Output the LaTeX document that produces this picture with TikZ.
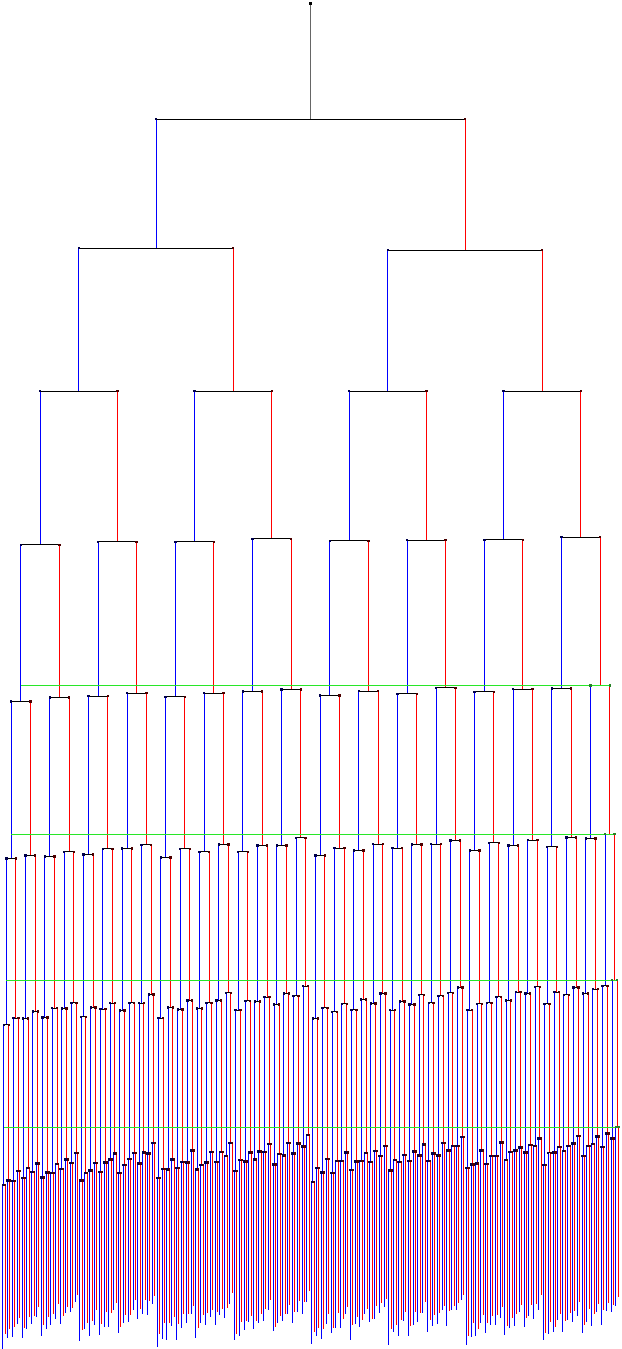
\documentclass[tikz,border=0pt]{standalone}
\definecolor{leftblue}{RGB}{0,0,255}
\definecolor{rightred}{RGB}{255,0,0}
\definecolor{horizongreen}{RGB}{40,230,40}
\definecolor{knotgreen}{RGB}{40,130,40}

\begin{document}
\begin{tikzpicture}[x=1pt,y=-1pt,
  edge/.style={line width=1pt},
  baredge/.style={draw=black,line width=1pt},
  horizon/.style={draw=horizongreen,line width=1pt}]
  \useasboundingbox (0,0) rectangle (621,1349);
  \pgfmathsetseed{1729}
  \def\levbase{{0,119,248,391,544,700.5,860.7,1024,1188}}
  \def\levslope{{0,0,-2,0,2.33,3.75,5.3,7.33,8.7}}
  \def\levnoise{{0,0,0,0,1,1.8,2.2,2.6,3}}
  % node positions, level by level
  \coordinate (n-0-0) at (310.5,3.5);
  \expandafter\xdef\csname pop-0-0\endcsname{0}
  \foreach \k in {1,...,8}{
    \pgfmathtruncatemacro{\km}{\k-1}
    \pgfmathtruncatemacro{\cnt}{2^\km-1}
    \foreach \m in {0,...,\cnt}{
      \edef\pp{\csname pop-\km-\m\endcsname}
      \pgfmathtruncatemacro{\il}{2*\m}
      \pgfmathtruncatemacro{\ir}{2*\m+1}
      \pgfmathsetmacro{\yb}{\levbase[\k]-\levslope[\k]*\pp+(\pp<\km)*\levnoise[\k]*rand}
      \pgfmathsetmacro{\xl}{1.5+(\il+0.5)/2^\k*618}
      \pgfmathsetmacro{\xr}{1.5+(\ir+0.5)/2^\k*618}
      \coordinate (n-\k-\il) at (\xl,\yb);
      \coordinate (n-\k-\ir) at (\xr,\yb);
      \expandafter\xdef\csname pop-\k-\il\endcsname{\pp}
      \pgfmathtruncatemacro{\pq}{\pp+1}
      \expandafter\xdef\csname pop-\k-\ir\endcsname{\pq}
    }
  }
  % hanging ends of the last level
  \foreach \i in {0,...,255}{
    \pgfmathsetmacro{\xe}{1.5+(\i+0.5)/256*618}
    \pgfmathtruncatemacro{\low}{mod(\i,2)+mod(floor(\i/2),2)+mod(floor(\i/4),2)+mod(floor(\i/8),2)+mod(floor(\i/16),2)}
    \pgfmathsetmacro{\ye}{1346-10*\low-3*mod(floor(\i/32),2)+4*rand}
    \coordinate (leaf-\i) at (\xe,\ye);
  }
  % edges and bars
  \foreach \k in {0,...,7}{
    \pgfmathtruncatemacro{\kk}{\k+1}
    \pgfmathtruncatemacro{\cnt}{2^\k-1}
    \foreach \m in {0,...,\cnt}{
      \pgfmathtruncatemacro{\il}{2*\m}
      \pgfmathtruncatemacro{\ir}{2*\m+1}
      \pgfmathtruncatemacro{\side}{mod(\m,2)}
      \ifnum\side=0 \def\col{leftblue}\else\def\col{rightred}\fi
      \ifnum\k=0 \def\col{black!60}\fi
      \draw[edge,draw=\col] (n-\k-\m) -- (n-\k-\m |- n-\kk-\il);
      \draw[baredge] (n-\kk-\il) -- (n-\kk-\ir);
    }
  }
  \foreach \i in {0,...,255}{
    \pgfmathtruncatemacro{\side}{mod(\i,2)}
    \ifnum\side=0 \def\col{leftblue}\else\def\col{rightred}\fi
    \draw[edge,draw=\col] (n-8-\i) -- (leaf-\i);
  }
  % green horizons
  \foreach \k in {5,...,8}{
    \pgfmathtruncatemacro{\km}{\k-1}
    \pgfmathtruncatemacro{\last}{2^\k-1}
    \draw[horizon] (n-\km-0 |- n-\k-\last) -- (n-\k-\last);
  }
  % knots
  \fill[black] (n-0-0) +(-1.2,-1.2) rectangle +(1.2,1.2);
  \foreach \k in {1,...,8}{
    \pgfmathtruncatemacro{\cnt}{2^\k-1}
    \foreach \i in {0,...,\cnt}{
      \pgfmathtruncatemacro{\side}{mod(\i,2)}
      \ifnum\side=0 \def\kc{blue!30!black}\else\def\kc{red!30!black}\fi
      \fill[fill=\kc] (n-\k-\i) +(-1.2,-1.2) rectangle +(1.2,1.2);
    }
  }
  \foreach \k in {5,...,8}{
    \pgfmathtruncatemacro{\last}{2^\k-1}
    \pgfmathtruncatemacro{\prev}{2^\k-2}
    \fill[knotgreen] (n-\k-\last) +(-1.2,-1.2) rectangle +(1.2,1.2);
    \fill[knotgreen] (n-\k-\prev) +(-1.2,-1.2) rectangle +(1.2,1.2);
  }
\end{tikzpicture}
\end{document}
